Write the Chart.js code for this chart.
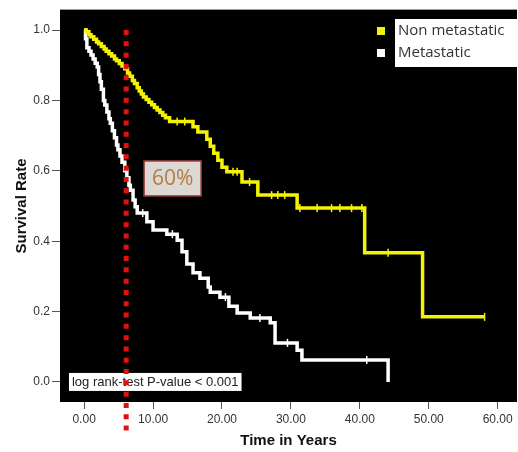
<!DOCTYPE html>
<html>
<head>
<meta charset="utf-8">
<script src="https://cdn.jsdelivr.net/npm/chart.js@4.4.1/dist/chart.umd.min.js"></script>
<style>
  html, body { margin: 0; padding: 0; background: #fff; }
  #wrap { width: 518px; height: 452px; }
</style>
</head>
<body>
<div id="wrap"><canvas id="kmChart" width="518" height="452"></canvas></div>
<script>
// Kaplan-Meier steps (time in years, survival)
var nonMetTime = [0, 0.3, 0.7, 1.0, 1.4, 1.8, 2.1, 2.5, 2.9, 3.2, 3.6, 4.0, 4.4, 4.7, 5.1, 5.5, 5.9, 6.3, 6.6, 7.0, 7.3, 7.7, 8.0, 8.3, 8.6, 9.0, 9.4, 9.8, 10.2, 10.6, 11.0, 11.4, 11.8, 12.4, 15.8, 16.5, 17.8, 18.3, 18.8, 19.4, 20.0, 20.7, 22.9, 25.2, 30.9, 40.7, 49.1, 58.1];
var nonMetSurv = [1.0, 0.995, 0.987, 0.981, 0.974, 0.966, 0.961, 0.953, 0.946, 0.94, 0.933, 0.926, 0.918, 0.913, 0.905, 0.898, 0.89, 0.878, 0.869, 0.857, 0.848, 0.836, 0.827, 0.818, 0.81, 0.803, 0.795, 0.788, 0.78, 0.773, 0.766, 0.758, 0.751, 0.74, 0.725, 0.71, 0.69, 0.67, 0.65, 0.63, 0.61, 0.597, 0.568, 0.531, 0.494, 0.367, 0.185, 0.185];
var nonMetCensorTime = [13.5, 14.6, 21.6, 22.2, 24.0, 27.2, 28.1, 29.1, 31.3, 33.8, 35.9, 37.1, 38.8, 40.3, 44.1, 58.1];
var nonMetCensorSurv = [0.74, 0.74, 0.597, 0.597, 0.568, 0.531, 0.531, 0.531, 0.494, 0.494, 0.494, 0.494, 0.494, 0.494, 0.367, 0.185];

var metTime = [0, 0.2, 0.4, 0.7, 1.0, 1.3, 1.6, 1.9, 2.1, 2.3, 2.5, 2.8, 3.0, 3.3, 3.6, 3.8, 4.1, 4.4, 4.7, 4.9, 5.2, 5.5, 5.9, 6.2, 6.5, 6.7, 7.1, 7.4, 7.7, 9.1, 10.0, 12.0, 13.5, 14.2, 14.9, 15.8, 16.8, 18.0, 18.3, 19.7, 21.0, 22.2, 24.1, 27.0, 27.7, 30.9, 31.6, 44.1];
var metSurv = [1.0, 0.975, 0.95, 0.94, 0.929, 0.918, 0.906, 0.895, 0.874, 0.853, 0.832, 0.80, 0.787, 0.767, 0.748, 0.735, 0.714, 0.694, 0.673, 0.66, 0.642, 0.624, 0.60, 0.58, 0.559, 0.545, 0.517, 0.498, 0.48, 0.455, 0.432, 0.42, 0.403, 0.37, 0.335, 0.31, 0.295, 0.27, 0.255, 0.241, 0.215, 0.196, 0.182, 0.168, 0.111, 0.09, 0.0625, 0.0];
var metCensorTime = [8.5, 12.8, 20.5, 25.5, 29.5, 41.0];
var metCensorSurv = [0.48, 0.42, 0.241, 0.182, 0.111, 0.0625];

var xTicks = [0, 10, 20, 30, 40, 50, 60];
var yTicks = [0.0, 0.2, 0.4, 0.6, 0.8, 1.0];

var seriesNames = ['Non metastatic', 'Metastatic'];
var seriesColors = ['#f4f400', '#ffffff'];

var cutoffYear = 6.1;
var cutoffLabel = '60%';
var pValueLabel = 'log rank-test P-value < 0.001';

function toPoints(xs, ys) {
  return xs.map(function(x, i) { return { x: x, y: ys[i] }; });
}

// black plot area
var plotBackground = {
  id: 'plotBackground',
  beforeDraw: function(chart) {
    var a = chart.chartArea, ctx = chart.ctx;
    ctx.save();
    ctx.fillStyle = '#000';
    ctx.fillRect(a.left, a.top, a.right - a.left, a.bottom - a.top);
    ctx.strokeStyle = '#999';
    ctx.lineWidth = 1;
    ctx.beginPath();
    ctx.moveTo(a.left, a.top - 0.5);
    ctx.lineTo(a.right, a.top - 0.5);
    ctx.stroke();
    ctx.restore();
  }
};

// boxes, red cut-off line and legend
var overlays = {
  id: 'overlays',
  afterDatasetsDraw: function(chart) {
    var ctx = chart.ctx, xs = chart.scales.x, ys = chart.scales.y;
    ctx.save();

    // p-value box
    ctx.font = '13px "Liberation Sans", Arial, sans-serif';
    var tw = ctx.measureText(pValueLabel).width;
    var bx = xs.getPixelForValue(-2.2), by = ys.getPixelForValue(0) - 9;
    ctx.fillStyle = '#fff';
    ctx.fillRect(bx, by, tw + 6, 18);
    ctx.fillStyle = '#222';
    ctx.textBaseline = 'middle';
    ctx.textAlign = 'left';
    ctx.fillText(pValueLabel, bx + 3, by + 9.5);

    // 60% box
    var cx = xs.getPixelForValue(8.7), cy = ys.getPixelForValue(0.628);
    ctx.fillStyle = '#dcd9d5';
    ctx.fillRect(cx, cy, 57, 35);
    ctx.strokeStyle = '#9c3b3b';
    ctx.lineWidth = 1.5;
    ctx.strokeRect(cx, cy, 57, 35);
    ctx.fillStyle = '#b07d45';
    ctx.font = '21px "Open Sans", sans-serif';
    ctx.textAlign = 'center';
    ctx.fillText(cutoffLabel, cx + 28.5, cy + 18.5);

    // red dotted cut-off line
    var lx = xs.getPixelForValue(cutoffYear);
    ctx.strokeStyle = '#e31010';
    ctx.lineWidth = 5;
    ctx.setLineDash([5, 6.3]);
    ctx.beginPath();
    ctx.moveTo(lx, ys.getPixelForValue(1.0));
    ctx.lineTo(lx, chart.chartArea.bottom + 31);
    ctx.stroke();
    ctx.setLineDash([]);

    // legend
    var a = chart.chartArea;
    ctx.fillStyle = '#fff';
    ctx.fillRect(395, a.top + 9, a.right - 395, 48);
    ctx.font = '15px "Open Sans", sans-serif';
    ctx.textAlign = 'left';
    seriesNames.forEach(function(name, i) {
      var ry = a.top + 21 + i * 22;
      ctx.fillStyle = seriesColors[i];
      ctx.fillRect(377, ry - 4, 8, 8);
      ctx.fillStyle = '#333';
      ctx.fillText(name, 398, ry);
    });
    ctx.restore();
  }
};

var ctxKm = document.getElementById('kmChart').getContext('2d');
var kmChart = new Chart(ctxKm, {
  type: 'line',
  data: {
    datasets: [{
      label: seriesNames[0],
      data: toPoints(nonMetTime, nonMetSurv),
      borderColor: seriesColors[0],
      borderWidth: 3.5,
      stepped: 'before',
      pointRadius: 0,
      fill: false
    }, {
      label: seriesNames[1],
      data: toPoints(metTime, metSurv),
      borderColor: seriesColors[1],
      borderWidth: 3.5,
      stepped: 'before',
      pointRadius: 0,
      fill: false
    }, {
      label: 'censor1',
      data: toPoints(nonMetCensorTime, nonMetCensorSurv),
      showLine: false,
      pointStyle: 'line',
      rotation: 90,
      pointRadius: 4,
      pointBorderWidth: 1.5,
      borderColor: seriesColors[0]
    }, {
      label: 'censor2',
      data: toPoints(metCensorTime, metCensorSurv),
      showLine: false,
      pointStyle: 'line',
      rotation: 90,
      pointRadius: 4,
      pointBorderWidth: 1.5,
      borderColor: seriesColors[1]
    }]
  },
  options: {
    responsive: false,
    animation: false,
    layout: {
      autoPadding: false,
      padding: { top: 10, right: 1, left: 0, bottom: 0 }
    },
    plugins: {
      legend: { display: false },
      tooltip: { enabled: false }
    },
    scales: {
      x: {
        type: 'linear',
        min: -3.5,
        max: 62.8,
        afterBuildTicks: function(s) { s.ticks = xTicks.map(function(v) { return { value: v }; }); },
        afterFit: function(s) { s.height = 50; s.paddingRight = 0; s.paddingLeft = 0; },
        ticks: {
          color: '#333',
          font: { family: '"Liberation Sans", Arial, sans-serif', size: 12 },
          padding: 3,
          maxRotation: 0,
          callback: function(v) { return v.toFixed(2); }
        },
        grid: { drawOnChartArea: false, tickLength: 7, color: '#555' },
        border: { display: false },
        title: {
          display: true,
          text: 'Time in Years',
          color: '#111',
          font: { family: '"Liberation Sans", Arial, sans-serif', size: 15, weight: 'bold' },
          padding: { top: 0, bottom: 2 }
        }
      },
      y: {
        min: -0.057,
        max: 1.057,
        afterBuildTicks: function(s) { s.ticks = yTicks.map(function(v) { return { value: v }; }); },
        afterFit: function(s) { s.width = 60; },
        ticks: {
          color: '#333',
          font: { family: '"Liberation Sans", Arial, sans-serif', size: 12 },
          padding: 2,
          callback: function(v) { return v.toFixed(1); }
        },
        grid: { drawOnChartArea: false, tickLength: 8, color: '#555' },
        border: { display: false },
        title: {
          display: true,
          text: 'Survival Rate',
          color: '#111',
          font: { family: '"Liberation Sans", Arial, sans-serif', size: 15, weight: 'bold' },
          padding: { top: 13, bottom: 0 }
        }
      }
    }
  },
  plugins: [plotBackground, overlays]
});
</script>
</body>
</html>
